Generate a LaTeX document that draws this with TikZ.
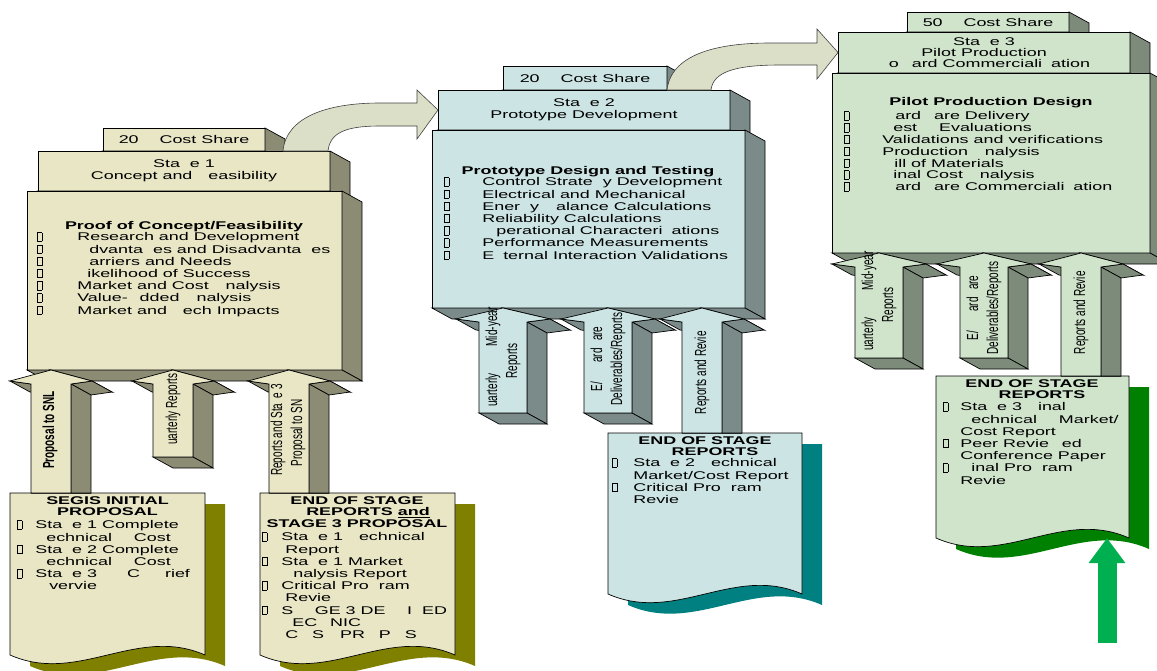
\documentclass[tikz,border=0pt]{standalone}
\usepackage{fontspec}
\setmainfont[FakeStretch=1.6]{Liberation Sans}
\newfontfamily\sidefont[FakeStretch=0.625]{Liberation Sans}
\usetikzlibrary{arrows.meta,calc}

\definecolor{oneface}{HTML}{E8E6C5}
\definecolor{oneside}{HTML}{8C8B74}
\definecolor{oneshadow}{HTML}{808000}
\definecolor{twoface}{HTML}{CCE4E4}
\definecolor{twoside}{HTML}{7B8B89}
\definecolor{twoshadow}{HTML}{008080}
\definecolor{threeface}{HTML}{D0E4CC}
\definecolor{threeside}{HTML}{7C8B7A}
\definecolor{threeshadow}{HTML}{008000}
\definecolor{bendfill}{HTML}{DCDFC8}
\definecolor{goarrow}{HTML}{00B050}

\newcommand\sqb{{\setlength\fboxsep{0pt}\setlength\fboxrule{0.5pt}\fbox{\hspace{4pt}\rule{0pt}{8pt}}}}
\newcommand\itm[2][40pt]{\makebox[#1][l]{\sqb}#2}

\newcommand\boxsides[2]{%
  \filldraw[fill=#2] (#1.north east) -- ++(20,11) -- ([shift={(20,11)}]#1.south east) -- (#1.south east) -- cycle;
  \filldraw[fill=#2] (#1.south west) -- ++(20,11) -- ([shift={(20,11)}]#1.south east) -- (#1.south east) -- cycle;}

\newcommand\docpage[6]{%
  \fill[#6] ({#1+20},{#2+11}) -- ({#3+20},{#2+11}) -- ({#3+20},{#4+11})
    .. controls ({#3+20-0.35*(#3-#1)},{#4+11-30}) and ({#1+20+0.35*(#3-#1)},{#4+11+30}) .. ({#1+20},{#4+11}) -- cycle;
  \filldraw[fill=#5] (#1,#2) -- (#3,#2) -- (#3,#4)
    .. controls ({#3-0.35*(#3-#1)},{#4-30}) and ({#1+0.35*(#3-#1)},{#4+30}) .. (#1,#4) -- cycle;}

\newcommand\blockup[7]{%
  \coordinate (T) at (#3); \coordinate (B) at (#4);
  \filldraw[fill=#2] ($(T)+(-#6,11)$) -- ($(T)+(-#5,14)$) -- ($(T)+(-#5+20,25)$) -- ($(T)+(-#6+20,22)$) -- cycle;
  \filldraw[fill=#2] (T) -- ($(T)+(#6,11)$) -- ($(T)+(#6+20,22)$) -- ($(T)+(20,11)$) -- cycle;
  \filldraw[fill=#2] ($(T)+(#6,11)$) -- ($(T)+(#5,14)$) -- ($(T)+(#5+20,25)$) -- ($(T)+(#6+20,22)$) -- cycle;
  \filldraw[fill=#2] ($(T)+(#5,14)$) -- ($(B)+(#5,0)$) -- ($(B)+(#5+20,#7)$) -- ($(T)+(#5+20,25)$) -- cycle;
  \filldraw[fill=#2] ($(B)+(-#5,0)$) -- ($(B)+(-#5+20,#7)$) -- ($(B)+(#5+20,#7)$) -- ($(B)+(#5,0)$) -- cycle;
  \filldraw[fill=#1] ($(B)+(-#5,0)$) -- ($(T)+(-#5,14)$) -- ($(T)+(-#6,11)$) -- (T) -- ($(T)+(#6,11)$) -- ($(T)+(#5,14)$) -- ($(B)+(#5,0)$) -- cycle;}

\begin{document}
\begin{tikzpicture}[
    x=1pt, y=-1pt, line width=0.7pt,
    font=\fontsize{11.2}{12.2}\selectfont,
    slab/.style={draw, anchor=north west, inner sep=0pt, outer sep=0pt, align=center},
    listing/.style={anchor=north west, align=left, inner sep=0pt},
    boxtitle/.style={font=\fontsize{11.2}{12.2}\selectfont\bfseries, inner sep=0pt},
    doctitle/.style={anchor=north, align=center, inner sep=3pt, font=\fontsize{11.2}{11.5}\selectfont\bfseries},
    sidelabel/.style={rotate=90, align=center, inner sep=0pt, font=\sidefont\fontsize{16}{20}\selectfont},
    bent/.style={fill=bendfill, draw=black!75, line width=0.6pt},
    goline/.style={draw=goarrow, line width=19pt, -{Triangle[width=35pt,length=25pt]}}
]
\useasboundingbox (0,0) rectangle (1157,670);

\node[slab, fill=oneface, minimum width=162pt, minimum height=23pt] (cost1) at (103,128) {20\phantom{\%} Cost Share};
\boxsides{cost1}{oneside}
\node[slab, fill=oneface, minimum width=292pt, minimum height=40pt] (head1) at (38,151) {Sta\phantom{g}e 1\\Concept and \phantom{F}easibility};
\boxsides{head1}{oneside}
\node[slab, fill=oneface, minimum width=315pt, minimum height=179pt] (main1) at (27,191) {};
\boxsides{main1}{oneside}

\node[slab, fill=twoface, minimum width=164pt, minimum height=24pt] (cost2) at (503,66) {20\phantom{\%} Cost Share};
\boxsides{cost2}{twoside}
\node[slab, fill=twoface, minimum width=292pt, minimum height=40pt] (head2) at (438,90) {Sta\phantom{g}e 2\\Prototype Development};
\boxsides{head2}{twoside}
\node[slab, fill=twoface, minimum width=313pt, minimum height=178pt] (main2) at (432,130) {};
\boxsides{main2}{twoside}

\node[slab, fill=threeface, minimum width=162pt, minimum height=20pt] (cost3) at (907,12) {50\phantom{\%} Cost Share};
\boxsides{cost3}{threeside}
\node[slab, fill=threeface, minimum width=292pt, minimum height=41pt, font=\fontsize{11.2}{11}\selectfont] (head3) at (838,32) {Sta\phantom{g}e 3\\Pilot Production\\\phantom{T}o\phantom{w}ard Commerciali\phantom{z}ation};
\boxsides{head3}{threeside}
\node[slab, fill=threeface, minimum width=318pt, minimum height=180pt] (main3) at (832,73) {};
\boxsides{main3}{threeside}

\node[boxtitle] (title1) at (184,227) {Proof of Concept/Feasibility};
\node[listing] (list1) at (37,232) {\itm{Research and Development}\\
  \itm{\phantom{A}dvanta\phantom{g}es and Disadvanta\phantom{g}es}\\
  \itm{\phantom{B}arriers and Needs}\\
  \itm{\phantom{L}ikelihood of Success}\\
  \itm{Market and Cost \phantom{A}nalysis}\\
  \itm{Value-\phantom{A}dded \phantom{A}nalysis}\\
  \itm{Market and \phantom{T}ech Impacts}};

\node[boxtitle] (title2) at (588,172) {Prototype Design and Testing};
\node[listing] (list2) at (444,177) {\itm[38pt]{Control Strate\phantom{g}y Development}\\
  \itm[38pt]{Electrical and Mechanical}\\
  \itm[38pt]{Ener\phantom{g}y \phantom{B}alance Calculations}\\
  \itm[38pt]{Reliability Calculations}\\
  \itm[38pt]{\phantom{O}perational Characteri\phantom{z}ations}\\
  \itm[38pt]{Performance Measurements}\\
  \itm[38pt]{E\phantom{x}ternal Interaction Validations}};

\node[boxtitle] (title3) at (991,103) {Pilot Production Design};
\node[listing, font=\fontsize{11.2}{11.8}\selectfont] (list3) at (844,111) {\itm[38pt]{\phantom{H}ard\phantom{w}are Delivery}\\
  \itm[38pt]{\phantom{T}est \phantom{\&} Evaluations}\\
  \itm[38pt]{Validations and verifications}\\
  \itm[38pt]{Production \phantom{A}nalysis}\\
  \itm[38pt]{\phantom{B}ill of Materials}\\
  \itm[38pt]{\phantom{F}inal Cost \phantom{A}nalysis}\\
  \itm[38pt]{\phantom{H}ard\phantom{w}are Commerciali\phantom{z}ation}};

\docpage{10}{493}{205}{655}{oneface}{oneshadow}
\node[doctitle] (segis) at (107.5,493) {SEGIS INITIAL\\PROPOSAL};
\node[listing] (segislist) at (17,520) {\itm[18pt]{Sta\phantom{g}e 1 Complete}\\
  \hspace*{18pt}\phantom{T}echnical \phantom{\&} Cost\\
  \itm[18pt]{Sta\phantom{g}e 2 Complete}\\
  \hspace*{18pt}\phantom{T}echnical \phantom{\&} Cost\\
  \itm[18pt]{Sta\phantom{g}e 3\hspace{30pt}C\hspace{25pt}rief}\\
  \hspace*{18pt}\phantom{O}vervie\phantom{w}};

\docpage{260}{493}{455}{655}{oneface}{oneshadow}
\node[doctitle] (eos1) at (357,493) {END OF STAGE\\\hspace*{22pt}REPORTS \underline{and}\\STAGE 3 PROPOSAL};
\node[listing] (eos1list) at (262,532) {\itm[19pt]{Sta\phantom{g}e 1 \phantom{T}echnical}\\
  \hspace*{23pt}Report\\
  \itm[19pt]{Sta\phantom{g}e 1 Market}\\
  \hspace*{19pt}\phantom{A}nalysis Report\\
  \itm[19pt]{Critical Pro\phantom{g}ram}\\
  \hspace*{23pt}Revie\phantom{w}\\
  \itm[19pt]{S\phantom{TA}GE 3 DE\phantom{TA}I\phantom{L}ED}\\
  \hspace*{19pt}\phantom{T}EC\phantom{H}NIC\phantom{AL}\\
  \hspace*{23pt}C\phantom{O}S\phantom{T} PR\phantom{O}P\phantom{O}S\phantom{AL}};

\docpage{608}{433}{802}{594}{twoface}{twoshadow}
\node[doctitle] (eos2) at (705,433) {END OF STAGE\\\hspace*{20pt}REPORTS};
\node[listing] (eos2list) at (612,458) {\itm[21pt]{Sta\phantom{g}e 2 \phantom{T}echnical}\\
  \hspace*{21pt}Market/Cost Report\\
  \itm[21pt]{Critical Pro\phantom{g}ram}\\
  \hspace*{21pt}Revie\phantom{w}};

\docpage{936}{376}{1129}{538}{threeface}{threeshadow}
\node[doctitle] (eos3) at (1032,376) {END OF STAGE\\\hspace*{20pt}REPORTS};
\node[listing] (eos3list) at (943,402) {\itm[17pt]{Sta\phantom{g}e 3 \phantom{F}inal}\\
  \hspace*{17pt}\phantom{T}echnical \phantom{\&} Market/\\
  \hspace*{17pt}Cost Report\\
  \itm[17pt]{Peer Revie\phantom{w}ed}\\
  \hspace*{17pt}Conference Paper\\
  \itm[17pt]{\phantom{F}inal Pro\phantom{g}ram}\\
  \hspace*{17pt}Revie\phantom{w}};

\blockup{oneface}{oneside}{51,0 |- main1.south}{51,0 |- segis.north}{20}{41}{0}
\blockup{oneface}{oneside}{173,0 |- main1.south}{173,457}{20}{41}{11}
\blockup{oneface}{oneside}{289,0 |- main1.south}{289,0 |- eos1.north}{20}{41}{0}
\blockup{twoface}{twoside}{503,0 |- main2.south}{503,413}{24}{47}{11}
\blockup{twoface}{twoside}{608,0 |- main2.south}{608,413}{24}{47}{11}
\blockup{twoface}{twoside}{702,0 |- main2.south}{702,0 |- eos2.north}{20}{42}{0}
\blockup{threeface}{threeside}{879,0 |- main3.south}{879,358}{24}{47}{11}
\blockup{threeface}{threeside}{984,0 |- main3.south}{984,358}{24}{47}{11}
\blockup{threeface}{threeside}{1081,0 |- main3.south}{1081,0 |- eos3.north}{20}{42}{0}

\node[sidelabel, font=\sidefont\fontsize{16}{20}\selectfont\bfseries] (snl) at (50,430) {Proposal to SNL};
\node[sidelabel] (qr1) at (173,413) {\phantom{Q}uarterly Reports};
\node[sidelabel] (rp1) at (288,430) {Reports and Sta\phantom{g}e 3\\Proposal to SN\phantom{L}};
\node[sidelabel] (qr2) at (503,361) {\phantom{Q}uarterly\hspace{27pt}Mid-year\\Reports};
\node[sidelabel] (hw2) at (608,359) {E/\phantom{W} \phantom{H}ard\phantom{w}are\\Deliverables/Reports};
\node[sidelabel] (rv2) at (702,369) {Reports and Revie\phantom{w}};
\node[sidelabel] (qr3) at (879,305) {\phantom{Q}uarterly\hspace{27pt}Mid-year\\Reports};
\node[sidelabel] (hw3) at (984,308) {E/\phantom{W} \phantom{H}ard\phantom{w}are\\Deliverables/Reports};
\node[sidelabel] (rv3) at (1081,309) {Reports and Revie\phantom{w}};

\filldraw[bent] (283,0 |- head1.north) .. controls (286,118) and (325,103) .. (380,103) -- (417,103) -- (417,90)
  -- (head2.west) -- (417,139) -- (417,126) -- (380,126) .. controls (345,126) and (330,133) .. (328,0 |- head1.north) -- cycle;
\filldraw[bent] (667,0 |- head2.north) .. controls (671,55) and (715,43) .. (770,43) -- (817,43) -- (817,29)
  -- (head3.west) -- (817,79) -- (817,65) -- (780,65) .. controls (735,65) and (713,72) .. (711,0 |- head2.north) -- cycle;

\coordinate (gofoot) at (1107,643);
\coordinate (gotip) at (1107,538);
\draw[goline] (gofoot) -- (gotip);
\end{tikzpicture}
\end{document}
